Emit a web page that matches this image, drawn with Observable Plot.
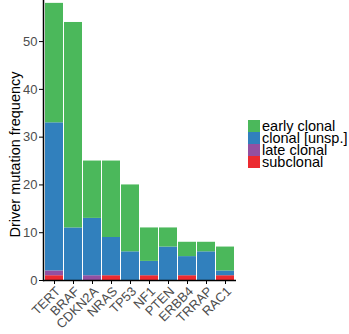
<!DOCTYPE html>
<html>
<head>
<meta charset="utf-8">
<script src="https://cdn.jsdelivr.net/npm/d3@7"></script>
<script src="https://cdn.jsdelivr.net/npm/@observablehq/plot@0.6"></script>
<style>
  html, body { margin: 0; padding: 0; background: #fff; }
  #wrap { position: relative; width: 349px; height: 334px; font-family: "Liberation Sans", Arial, sans-serif; }
  #wrap svg { font-family: "Liberation Sans", Arial, sans-serif; }
  #wrap svg g[aria-label$="tick label"] { fill: #4d4d4d; }
  #legend { position: absolute; left: 248px; top: 120px; font-size: 14.5px; color: #000; }
  .row { display: flex; align-items: center; height: 12px; }
  .sw { width: 12px; height: 12px; margin-right: 2px; flex: none; }
  .lab { line-height: 12px; white-space: nowrap; }
</style>
</head>
<body>
<div id="wrap"></div>
<script>
const genes = ["TERT","BRAF","CDKN2A","NRAS","TP53","NF1","PTEN","ERBB4","TRRAP","RAC1"];
const subclonal   = [1, 0, 0, 1, 0, 1, 0, 1, 0, 1];
const lateClonal  = [1, 0, 1, 0, 0, 0, 0, 0, 0, 0];
const clonalUnsp  = [31, 11, 12, 8, 6, 3, 7, 4, 6, 1];
const earlyClonal = [25, 43, 12, 16, 14, 7, 4, 3, 2, 5];
const stackOrder = ["subclonal", "late clonal", "clonal [unsp.]", "early clonal"];
const legendOrder = ["early clonal", "clonal [unsp.]", "late clonal", "subclonal"];
const colors = {"early clonal": "#4bb85b", "clonal [unsp.]": "#3180bd", "late clonal": "#9350a1", "subclonal": "#ec2a30"};
const yTicks = [0, 10, 20, 30, 40, 50];

const series = {"subclonal": subclonal, "late clonal": lateClonal, "clonal [unsp.]": clonalUnsp, "early clonal": earlyClonal};
const rows = [];
for (const cat of stackOrder) {
  genes.forEach((g, i) => rows.push({gene: g, cat, n: series[cat][i]}));
}

const chart = Plot.plot({
  width: 349,
  height: 334,
  marginLeft: 43,
  marginRight: 113,
  marginTop: 0,
  marginBottom: 54,
  x: {domain: genes, padding: 0.07, label: null},
  y: {domain: [0, 58.6], label: null},
  color: {domain: stackOrder, range: stackOrder.map(c => colors[c])},
  marks: [
    Plot.barY(rows, {x: "gene", y: "n", fill: "cat", z: "cat", order: stackOrder}),
    Plot.axisY({ticks: yTicks, tickSize: 4, tickPadding: 2, fontSize: 13, label: "Driver mutation frequency", labelAnchor: "center", labelArrow: "none", labelOffset: 34}),
    Plot.axisX({tickSize: 4, text: null, label: null}),
    Plot.text(genes, {x: d => d, frameAnchor: "bottom", rotate: -45, textAnchor: "end", lineAnchor: "top", dy: 5, dx: 0, fontSize: 13, fill: "#4d4d4d"}),
    Plot.ruleY([0], {stroke: "#000", strokeWidth: 1.5}),
    Plot.frame({anchor: "left", stroke: "#000", strokeWidth: 1.5})
  ]
});
chart.querySelectorAll('g[aria-label="y-axis label"] text').forEach(t => {
  t.style.fontSize = "14.5px";
  t.setAttribute("fill", "#000");
  t.setAttribute("dx", "-14");
});
document.getElementById("wrap").appendChild(chart);

const legend = document.createElement("div");
legend.id = "legend";
for (const c of legendOrder) {
  const r = document.createElement("div"); r.className = "row";
  const s = document.createElement("div"); s.className = "sw"; s.style.background = colors[c];
  const l = document.createElement("div"); l.className = "lab"; l.textContent = c;
  r.appendChild(s); r.appendChild(l); legend.appendChild(r);
}
document.getElementById("wrap").appendChild(legend);
</script>
</body>
</html>
